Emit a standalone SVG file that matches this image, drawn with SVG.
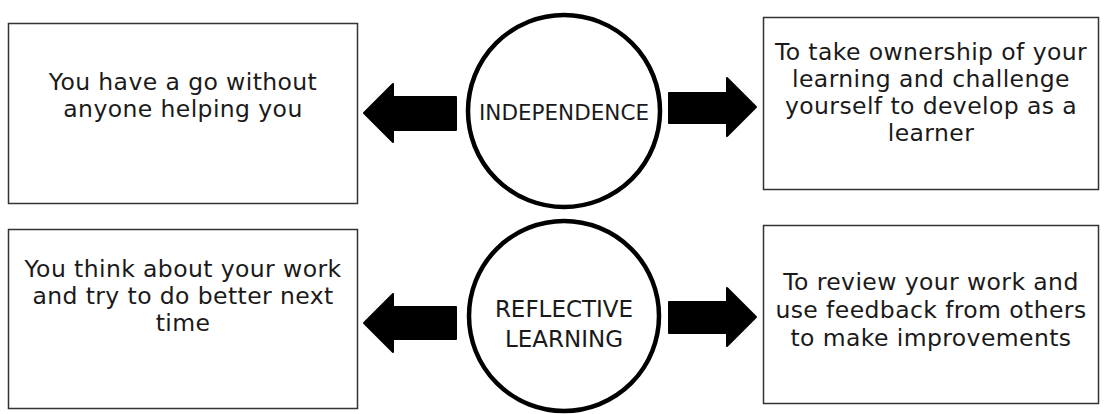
<svg xmlns="http://www.w3.org/2000/svg" width="1105" height="414" viewBox="0 0 1105 414">
<style>
.box{fill:#fff;stroke:#333;stroke-width:1.5}
.hub{fill:#fff;stroke:#000;stroke-width:4.5}
.arrow{fill:#000;stroke:#000;stroke-width:2;stroke-linejoin:round}
.t{font-family:"DejaVu Sans","Liberation Sans",sans-serif;font-size:23.5px;letter-spacing:0.4px;fill:#1a1a1a;text-anchor:middle}
.c{font-family:"DejaVu Sans","Liberation Sans",sans-serif;fill:#1a1a1a;text-anchor:middle}
</style>
<rect width="1105" height="414" fill="#fff"/>
<g id="connectors">
<polygon class="arrow" points="364,113 393,84 393,97 456,97 456,130 393,130 393,142"/>
<polygon class="arrow" points="669,93 727,93 727,78 756,107 727,136 727,123 669,123"/>
<polygon class="arrow" points="364,323 393,294 393,307 456,307 456,339 393,339 393,352"/>
<polygon class="arrow" points="669,302 727,302 727,288 756,317 727,346 727,333 669,333"/>
</g>
<g id="box-independence-left">
<rect class="box" x="8.5" y="23.5" width="349" height="180"/>
<text class="t" x="183" y="90">You have a go without</text>
<text class="t" x="183" y="117">anyone helping you</text>
</g>
<g id="hub-independence">
<circle class="hub" cx="564" cy="111" r="96"/>
<text class="c" x="564" y="120" font-size="21.5">INDEPENDENCE</text>
</g>
<g id="box-independence-right">
<rect class="box" x="763.5" y="17.5" width="335" height="172"/>
<text class="t" x="931" y="60">To take ownership of your</text>
<text class="t" x="931" y="87">learning and challenge</text>
<text class="t" x="931" y="114">yourself to develop as a</text>
<text class="t" x="931" y="141">learner</text>
</g>
<g id="box-reflective-left">
<rect class="box" x="8.5" y="229.5" width="349" height="179"/>
<text class="t" x="183" y="277">You think about your work</text>
<text class="t" x="183" y="304">and try to do better next</text>
<text class="t" x="183" y="331">time</text>
</g>
<g id="hub-reflective">
<circle class="hub" cx="564" cy="316" r="95"/>
<text class="c" x="564" y="317" font-size="23">REFLECTIVE</text>
<text class="c" x="564" y="347" font-size="23">LEARNING</text>
</g>
<g id="box-reflective-right">
<rect class="box" x="763.5" y="225.5" width="335" height="178"/>
<text class="t" x="931" y="290">To review your work and</text>
<text class="t" x="931" y="318">use feedback from others</text>
<text class="t" x="931" y="346">to make improvements</text>
</g>
</svg>
